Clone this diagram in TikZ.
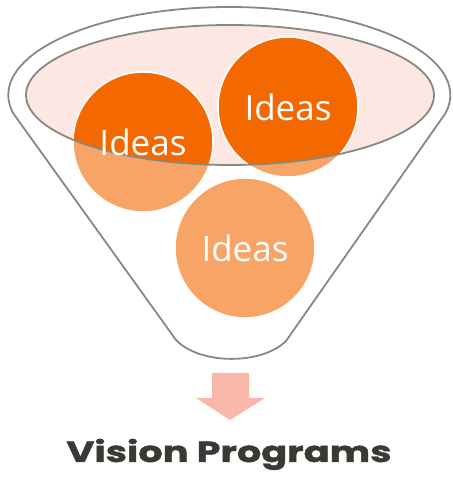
\documentclass[tikz,border=0pt]{standalone}
\usepackage{fontspec}
\setmainfont{Open Sans}
\newfontfamily\titlefont{Poppins}[BoldFeatures={FakeBold=1.2}]
\definecolor{darkorange}{HTML}{F46800}
\definecolor{lightorange}{HTML}{F8A466}
\definecolor{rimfill}{HTML}{FDE7E2}
\definecolor{rimgray}{HTML}{868A7E}
\definecolor{arrowpink}{HTML}{F9B8AA}
\definecolor{titlegray}{HTML}{3A3A35}
\tikzset{
  rim/.style={draw=rimgray, line width=1.8pt},
  bubble/.style={line width=1.5pt, draw=white},
  idea/.style={text=white, font=\fontsize{35}{35}\selectfont},
}
\begin{document}
\begin{tikzpicture}[x=1pt,y=1pt]
\useasboundingbox (0,0) rectangle (452,481);

\coordinate (c1) at (143,339);
\coordinate (c2) at (288,374);
\coordinate (c3) at (245,233);

% funnel
\draw[rim] (13,368) arc[start angle=191.8, end angle=-11.8, x radius=221, y radius=88]
  -- (286,140) .. controls (262,116) and (200,116) .. (176,141) -- cycle;
\fill[rimfill] (230,386) ellipse[x radius=204, y radius=70];

% ideas
\foreach \c in {c1,c2,c3}
  \filldraw[bubble, fill=lightorange] (\c) circle[radius=70];
\begin{scope}
\clip (230,386) ellipse[x radius=204, y radius=70];
\foreach \c in {c1,c2}
  \filldraw[bubble, fill=darkorange] (\c) circle[radius=70];
\end{scope}
\draw[rim] (230,386) ellipse[x radius=204, y radius=70];

\node[idea] (i1) at (c1) {Ideas};
\node[idea] (i2) at (c2) {Ideas};
\node[idea] (i3) at (c3) {Ideas};

% output
\fill[arrowpink] (212,108) -- (249,108) -- (249,83) -- (265,83) -- (230,61) -- (196,83) -- (212,83) -- cycle;
\node[text=titlegray, font=\titlefont\bfseries\fontsize{29}{29}\selectfont, anchor=base, xscale=1.32] (vp) at (229,19) {Vision Programs};
\end{tikzpicture}
\end{document}
